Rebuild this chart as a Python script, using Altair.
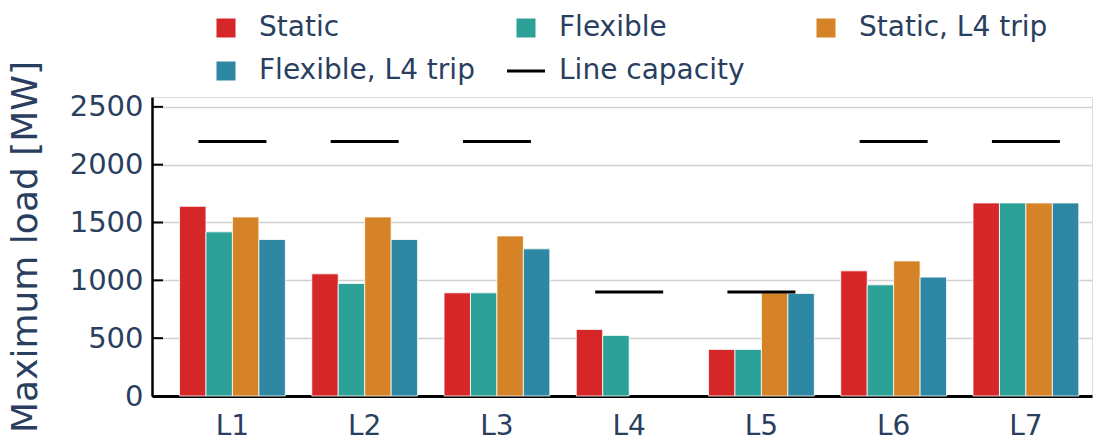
import altair as alt
import pandas as pd

# Branch loads per scenario (MW)
categories = ["L1", "L2", "L3", "L4", "L5", "L6", "L7"]
series_names = ["Static", "Flexible", "Static, L4 trip", "Flexible, L4 trip"]
static = [1640, 1056, 892, 576, 403, 1082, 1669]
flexible = [1419, 973, 892, 524, 403, 961, 1669]
static_l4_trip = [1548, 1548, 1384, None, 892, 1168, 1669]
flexible_l4_trip = [1353, 1353, 1272, None, 887, 1028, 1669]
line_capacity = [2200, 2200, 2200, 900, 900, 2200, 2200]
y_ticks = [0, 500, 1000, 1500, 2000, 2500]

legend_names = series_names + ["Line capacity"]
colors = ["#d62728", "#2ca197", "#d68227", "#2e87a3", "#000000"]
# square swatches for bars, a short thick dash for the capacity line
shapes = ["square", "square", "square", "square", "M-2,-0.16H2V0.16H-2Z"]
text_color = "#2a3f5f"
font = "DejaVu Sans"

rows = []
for name, vals in zip(series_names, [static, flexible, static_l4_trip, flexible_l4_trip]):
    for cat, v in zip(categories, vals):
        if v is not None:
            rows.append({"line": cat, "series": name, "value": v})
bars_df = pd.DataFrame(rows)
cap_df = pd.DataFrame({"line": categories, "series": "Line capacity", "value": line_capacity})
ticks_df = pd.DataFrame({"value": y_ticks})
legend_df = pd.DataFrame({"line": categories[0], "series": legend_names, "value": 0})

x_enc = alt.X(
    "line:N",
    scale=alt.Scale(domain=categories, paddingInner=0.2, paddingOuter=0.154, align=0.676),
    axis=alt.Axis(
        title=None, labelAngle=0, ticks=False, tickSize=0, grid=False,
        domainColor="black", domainWidth=3,
        labelFontSize=28, labelColor=text_color, labelFont=font, labelPadding=16,
    ),
)
y_enc = alt.Y(
    "value:Q",
    scale=alt.Scale(domain=[0, 2585], nice=False, zero=True),
    axis=alt.Axis(
        title="Maximum load [MW]", values=y_ticks, format="d", ticks=False, tickSize=0,
        grid=True, gridColor="#d0d0d0", gridWidth=1.5,
        domainColor="black", domainWidth=2.5,
        labelFontSize=29, labelColor=text_color, labelFont=font, labelPadding=9,
        titleFontSize=36, titleColor=text_color, titleFont=font, titleFontWeight="normal",
        titleX=-115.6, titleBaseline="alphabetic",
    ),
)

legend = alt.Legend(
    title=None, orient="none", legendX=60, legendY=-83, columns=3, direction="horizontal",
    labelFontSize=28, labelColor=text_color, labelFont=font, labelOffset=19, labelLimit=400,
    symbolSize=361, symbolStrokeWidth=0, symbolOpacity=1,
    columnPadding=32, rowPadding=15, gridAlign="all",
)
color_enc = alt.Color(
    "series:N",
    scale=alt.Scale(domain=legend_names, range=colors),
    legend=legend,
)
shape_enc = alt.Shape(
    "series:N",
    scale=alt.Scale(domain=legend_names, range=shapes),
    legend=legend,
)

bars = alt.Chart(bars_df).mark_bar(stroke="white", strokeWidth=0.8, opacity=1).encode(
    x=x_enc,
    xOffset=alt.XOffset("series:N", scale=alt.Scale(domain=series_names, paddingInner=0, paddingOuter=0)),
    y=y_enc,
    color=color_enc,
)

capacity = alt.Chart(cap_df).mark_tick(size=68, thickness=3, opacity=1).encode(
    x=x_enc,
    y=y_enc,
    color=color_enc,
)

# legend-only layer: carries the shape channel, draws no marks
legend_layer = alt.Chart(legend_df).mark_point(filled=True, opacity=1).encode(
    x=x_enc,
    y=y_enc,
    color=color_enc,
    shape=shape_enc,
).transform_filter("false")

inner_ticks = alt.Chart(ticks_df).mark_rule(color="black", strokeWidth=2).encode(
    y=y_enc,
    x=alt.value(0),
    x2=alt.value(11),
)

chart = alt.layer(bars, capacity, legend_layer, inner_ticks).properties(
    width=940,
    height=299,
    padding={"left": 152, "top": 97, "right": 5, "bottom": 44},
    autosize=alt.AutoSizeParams(type="none"),
).configure_view(stroke=None).configure(background="white")

chart.save("out.html", embed_options={"renderer": "svg", "actions": False})
